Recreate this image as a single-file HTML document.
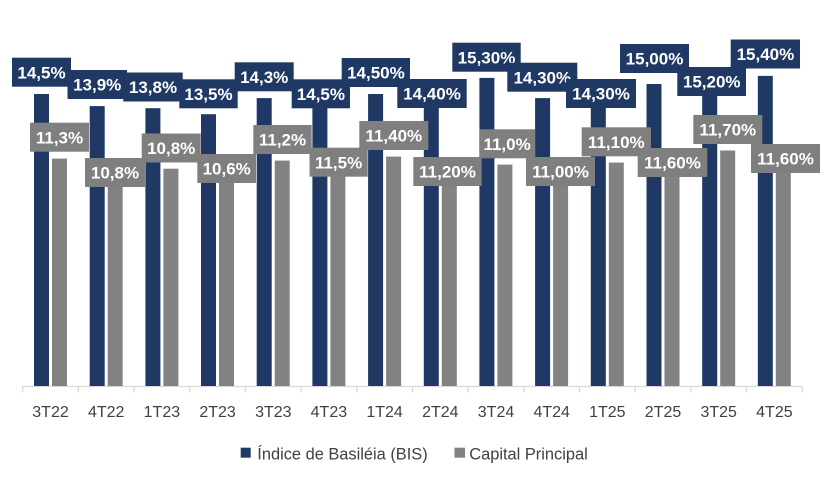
<!DOCTYPE html>
<html>
<head>
<meta charset="utf-8">
<style>
  html,body{margin:0;padding:0;background:#fff;}
  svg{display:block;}
  .lbl{font-family:"Liberation Sans",sans-serif;font-weight:bold;font-size:17px;fill:#fff;text-anchor:middle;}
  .ax{font-family:"Liberation Sans",sans-serif;font-size:16px;fill:#404040;text-anchor:middle;}
  .lg{font-family:"Liberation Sans",sans-serif;font-size:16.4px;fill:#404040;}
</style>
</head>
<body>
<svg width="825" height="483" viewBox="0 0 825 483" xmlns="http://www.w3.org/2000/svg">
  <rect width="825" height="483" fill="#fff"/>

  <!-- axis -->
  <g stroke="#d9d9d9" stroke-width="1.3">
    <line x1="22.7" y1="386.5" x2="802.2" y2="386.5"/>
    <line x1="22.7" y1="386.5" x2="22.7" y2="392.5"/>
    <line x1="78.4" y1="386.5" x2="78.4" y2="392.5"/>
    <line x1="134.1" y1="386.5" x2="134.1" y2="392.5"/>
    <line x1="189.7" y1="386.5" x2="189.7" y2="392.5"/>
    <line x1="245.4" y1="386.5" x2="245.4" y2="392.5"/>
    <line x1="301.1" y1="386.5" x2="301.1" y2="392.5"/>
    <line x1="356.8" y1="386.5" x2="356.8" y2="392.5"/>
    <line x1="412.5" y1="386.5" x2="412.5" y2="392.5"/>
    <line x1="468.1" y1="386.5" x2="468.1" y2="392.5"/>
    <line x1="523.8" y1="386.5" x2="523.8" y2="392.5"/>
    <line x1="579.5" y1="386.5" x2="579.5" y2="392.5"/>
    <line x1="635.2" y1="386.5" x2="635.2" y2="392.5"/>
    <line x1="690.9" y1="386.5" x2="690.9" y2="392.5"/>
    <line x1="746.5" y1="386.5" x2="746.5" y2="392.5"/>
    <line x1="802.2" y1="386.5" x2="802.2" y2="392.5"/>
  </g>

  <!-- dark bars (Índice de Basiléia) -->
  <g fill="#1f3864">
    <rect x="34.0" y="94.0" width="15" height="292"/>
    <rect x="89.7" y="106.1" width="15" height="279.9"/>
    <rect x="145.4" y="108.2" width="15" height="277.8"/>
    <rect x="201.0" y="114.2" width="15" height="271.8"/>
    <rect x="256.7" y="98.1" width="15" height="287.9"/>
    <rect x="312.4" y="94.0" width="15" height="292"/>
    <rect x="368.1" y="94.0" width="15" height="292"/>
    <rect x="423.8" y="96.1" width="15" height="289.9"/>
    <rect x="479.4" y="77.9" width="15" height="308.1"/>
    <rect x="535.1" y="98.1" width="15" height="287.9"/>
    <rect x="590.8" y="98.1" width="15" height="287.9"/>
    <rect x="646.5" y="84.0" width="15" height="302"/>
    <rect x="702.2" y="79.9" width="15" height="306.1"/>
    <rect x="757.8" y="75.9" width="15" height="310.1"/>
  </g>

  <!-- gray bars (Capital Principal) -->
  <g fill="#828282">
    <rect x="52.0" y="158.6" width="15" height="227.4"/>
    <rect x="107.7" y="168.7" width="15" height="217.3"/>
    <rect x="163.4" y="168.7" width="15" height="217.3"/>
    <rect x="219.0" y="172.7" width="15" height="213.3"/>
    <rect x="274.7" y="160.6" width="15" height="225.4"/>
    <rect x="330.4" y="154.6" width="15" height="231.4"/>
    <rect x="386.1" y="156.6" width="15" height="229.4"/>
    <rect x="441.8" y="160.6" width="15" height="225.4"/>
    <rect x="497.4" y="164.6" width="15" height="221.4"/>
    <rect x="553.1" y="164.6" width="15" height="221.4"/>
    <rect x="608.8" y="162.6" width="15" height="223.4"/>
    <rect x="664.5" y="152.5" width="15" height="233.5"/>
    <rect x="720.2" y="150.5" width="15" height="235.5"/>
    <rect x="775.8" y="152.5" width="15" height="233.5"/>
  </g>

  <!-- dark labels -->
  <g>
    <rect x="12" y="57.7" width="59" height="29" fill="#1f3864"/><text class="lbl" x="41.5" y="78.3">14,5%</text>
    <rect x="67.5" y="70" width="59.5" height="29" fill="#1f3864"/><text class="lbl" x="97.2" y="90.6">13,9%</text>
    <rect x="123.3" y="72.5" width="59.4" height="29" fill="#1f3864"/><text class="lbl" x="153" y="93.1">13,8%</text>
    <rect x="179.3" y="79.3" width="58.4" height="29" fill="#1f3864"/><text class="lbl" x="208.5" y="99.9">13,5%</text>
    <rect x="234.7" y="62.3" width="59" height="29" fill="#1f3864"/><text class="lbl" x="264.2" y="82.9">14,3%</text>
    <rect x="291.7" y="79.3" width="58.3" height="29" fill="#1f3864"/><text class="lbl" x="320.9" y="99.9">14,5%</text>
    <rect x="341.7" y="58" width="68.3" height="29" fill="#1f3864"/><text class="lbl" x="375.9" y="78.6">14,50%</text>
    <rect x="397.3" y="79" width="69.4" height="29" fill="#1f3864"/><text class="lbl" x="432" y="99.6">14,40%</text>
    <rect x="452.3" y="42.7" width="68.4" height="29" fill="#1f3864"/><text class="lbl" x="486.5" y="63.3">15,30%</text>
    <rect x="507.3" y="62.7" width="70" height="29" fill="#1f3864"/><text class="lbl" x="542.3" y="83.3">14,30%</text>
    <rect x="566" y="79" width="70" height="29" fill="#1f3864"/><text class="lbl" x="601" y="99.6">14,30%</text>
    <rect x="620" y="44" width="69" height="29" fill="#1f3864"/><text class="lbl" x="654.5" y="64.6">15,00%</text>
    <rect x="677.3" y="67" width="68.7" height="29" fill="#1f3864"/><text class="lbl" x="711.7" y="87.6">15,20%</text>
    <rect x="730.7" y="39.5" width="69.3" height="29" fill="#1f3864"/><text class="lbl" x="765.4" y="60.1">15,40%</text>
  </g>

  <!-- gray labels -->
  <g>
    <rect x="30" y="122.7" width="59" height="29" fill="#7f7f7f"/><text class="lbl" x="59.5" y="143.3">11,3%</text>
    <rect x="85" y="158" width="60" height="29" fill="#7f7f7f"/><text class="lbl" x="115" y="178.6">10,8%</text>
    <rect x="141.7" y="133.5" width="59" height="29" fill="#7f7f7f"/><text class="lbl" x="171.2" y="154.1">10,8%</text>
    <rect x="197.3" y="154" width="58.7" height="29" fill="#7f7f7f"/><text class="lbl" x="226.7" y="174.6">10,6%</text>
    <rect x="253.3" y="125" width="58.4" height="29" fill="#7f7f7f"/><text class="lbl" x="282.5" y="145.6">11,2%</text>
    <rect x="309.5" y="147.7" width="58.2" height="29" fill="#7f7f7f"/><text class="lbl" x="338.6" y="168.3">11,5%</text>
    <rect x="359.3" y="121" width="69" height="29" fill="#7f7f7f"/><text class="lbl" x="393.8" y="141.6">11,40%</text>
    <rect x="413.3" y="157" width="68.4" height="29" fill="#7f7f7f"/><text class="lbl" x="447.5" y="177.6">11,20%</text>
    <rect x="479.3" y="129.3" width="55.7" height="29" fill="#7f7f7f"/><text class="lbl" x="507.1" y="149.9">11,0%</text>
    <rect x="526" y="157" width="69" height="29" fill="#7f7f7f"/><text class="lbl" x="560.5" y="177.6">11,00%</text>
    <rect x="581.7" y="127.3" width="69.3" height="29" fill="#7f7f7f"/><text class="lbl" x="616.3" y="147.9">11,10%</text>
    <rect x="637.7" y="148" width="69.6" height="29" fill="#7f7f7f"/><text class="lbl" x="672.5" y="168.6">11,60%</text>
    <rect x="693.3" y="115" width="69" height="29" fill="#7f7f7f"/><text class="lbl" x="727.8" y="135.6">11,70%</text>
    <rect x="751" y="144" width="69" height="29" fill="#7f7f7f"/><text class="lbl" x="785.5" y="164.6">11,60%</text>
  </g>

  <!-- category labels -->
  <g>
    <text class="ax" x="50.5" y="417">3T22</text>
    <text class="ax" x="106.2" y="417">4T22</text>
    <text class="ax" x="161.9" y="417">1T23</text>
    <text class="ax" x="217.6" y="417">2T23</text>
    <text class="ax" x="273.3" y="417">3T23</text>
    <text class="ax" x="328.9" y="417">4T23</text>
    <text class="ax" x="384.6" y="417">1T24</text>
    <text class="ax" x="440.3" y="417">2T24</text>
    <text class="ax" x="496.0" y="417">3T24</text>
    <text class="ax" x="551.7" y="417">4T24</text>
    <text class="ax" x="607.3" y="417">1T25</text>
    <text class="ax" x="663.0" y="417">2T25</text>
    <text class="ax" x="718.7" y="417">3T25</text>
    <text class="ax" x="774.4" y="417">4T25</text>
  </g>

  <!-- legend -->
  <rect x="240.7" y="447.7" width="10" height="10" fill="#1f3864"/>
  <text class="lg" x="257.3" y="459.5">Índice de Basiléia (BIS)</text>
  <rect x="454.5" y="447.7" width="10.5" height="10" fill="#828282"/>
  <text class="lg" x="469.3" y="459.5">Capital Principal</text>
</svg>
</body>
</html>
